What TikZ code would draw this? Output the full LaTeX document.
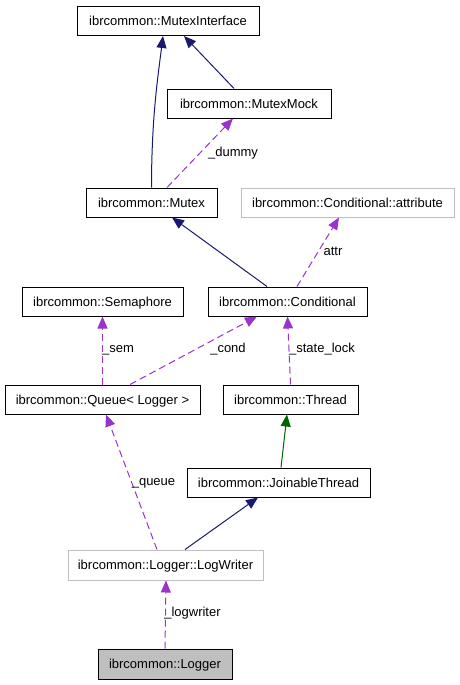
\documentclass[tikz,border=0pt]{standalone}
\usepackage{fontspec}
\setmainfont{Liberation Sans}
\usetikzlibrary{arrows.meta}
\definecolor{navyc}{HTML}{191970}
\definecolor{greenc}{HTML}{006400}
\definecolor{purplec}{HTML}{9A32CD}
\definecolor{grayc}{HTML}{BFBFBF}
\tikzset{
  cls/.style={draw=black, line width=1pt, inner sep=0pt, minimum height=29pt,
    text height=9.3pt, text depth=0pt, font=\fontsize{13}{15}\selectfont},
  clsgray/.style={cls, draw=grayc},
  clsfill/.style={cls, fill=grayc},
  lbl/.style={inner sep=0pt, text height=9.3pt, text depth=0pt, font=\fontsize{13}{15}\selectfont},
  tip/.style={-{Triangle[length=12pt,width=10pt]}},
  inh/.style={tip, draw=navyc, line width=1pt},
  inhg/.style={tip, draw=greenc, line width=1pt},
  use/.style={tip, draw=purplec, line width=1pt, dash pattern=on 7pt off 4pt},
}
\begin{document}
\begin{tikzpicture}[x=1pt,y=-1pt]
\useasboundingbox (0,0) rectangle (460,685);
\node[cls, minimum width=182pt] (mi) at (168,21) {ibrcommon::MutexInterface};
\node[cls, minimum width=164pt] (mm) at (249,103.5) {ibrcommon::MutexMock};
\node[cls, minimum width=131pt] (mutex) at (151.5,202.5) {ibrcommon::Mutex};
\node[clsgray, minimum width=213pt] (attr) at (347.5,202.5) {ibrcommon::Conditional::attribute};
\node[cls, minimum width=161pt] (sem) at (102.5,301.5) {ibrcommon::Semaphore};
\node[cls, minimum width=159pt] (cond) at (287.5,301.5) {ibrcommon::Conditional};
\node[cls, minimum width=195pt] (queue) at (102.5,399.5) {ibrcommon::Queue< Logger >};
\node[cls, minimum width=135pt] (thread) at (290.5,399.5) {ibrcommon::Thread};
\node[cls, minimum width=183pt] (jt) at (278.5,482.5) {ibrcommon::JoinableThread};
\node[clsgray, minimum width=195pt, minimum height=30pt] (lw) at (165.5,565) {ibrcommon::Logger::LogWriter};
\node[clsfill, minimum width=134pt, minimum height=30pt] (logger) at (165,664) {ibrcommon::Logger};

% inheritance
\draw[inh] (mutex.north) .. controls ++(0,-70) and ++(-5,40) .. ([xshift=-5pt]mi.south);
\draw[inh] ([xshift=-15pt]mm.north) -- ([xshift=16pt]mi.south);
\draw[inh] ([xshift=-20.5pt]cond.north) -- ([xshift=20.5pt]mutex.south);
\draw[inhg] ([xshift=2.5pt]jt.north) -- ([xshift=-3.5pt]thread.south);
\draw[inh] ([xshift=19.5pt]lw.north) -- ([xshift=-20.5pt]jt.south);

% usage
\draw[use] ([xshift=15.5pt]mutex.north) -- ([xshift=-16pt]mm.south);
\draw[use] ([xshift=9.5pt]cond.north) -- ([xshift=-8.5pt]attr.south);
\draw[use] (queue.north) -- (sem.south);
\draw[use] ([xshift=27.5pt]queue.north) -- ([xshift=-30.5pt]cond.south);
\draw[use] (thread.north) -- ([xshift=-3pt]thread.north |- cond.south);
\draw[use] ([xshift=-8.5pt]lw.north) -- ([xshift=3.5pt]queue.south);
\draw[use] (logger.north) -- ([xshift=0.5pt]lw.south);

% labels
\node[lbl] (ldummy) at (233,152) {\_dummy};
\node[lbl] (lattr) at (333,251) {attr};
\node[lbl] (lsem) at (118,348) {\_sem};
\node[lbl] (lcond) at (228,348) {\_cond};
\node[lbl] (lstate) at (322,348) {\_state\_lock};
\node[lbl] (lqueue) at (153.5,481) {\_queue};
\node[lbl] (llog) at (192.5,612) {\_logwriter};
\end{tikzpicture}
\end{document}
